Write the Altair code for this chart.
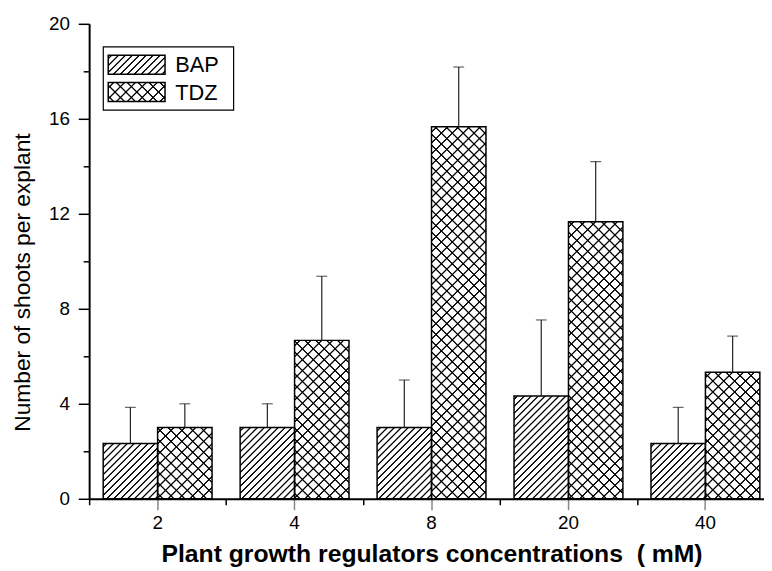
import math
import altair as alt

# ---------------- data ----------------
conc = ["2", "4", "8", "20", "40"]
series = ["BAP", "TDZ"]
bap_mean = [2.33, 3.0, 3.0, 4.33, 2.33]
bap_err = [1.52, 1.0, 2.0, 3.2, 1.52]
tdz_mean = [3.0, 6.67, 15.67, 11.67, 5.33]
tdz_err = [1.0, 2.7, 2.51, 2.53, 1.52]
y_ticks = [0, 2, 4, 6, 8, 10, 12, 14, 16, 18, 20]   # labelled every 4

# ---------------- layout ----------------
W, H = 682, 480          # visible plot area
XR = 692                 # x range (plot runs past the right edge, like the reference)
step = XR / len(conc)
po = 0.258               # outer padding of the sub-bands
bar_w = step / (2 + 2 * po)
px_per_unit = H / 20.0

FONT = "Liberation Sans, Arial, Helvetica, sans-serif"
CLEAR = "rgba(0,0,0,0)"


def hatch(w, h, spacing, direction):
    """Linear gradient that draws 45-degree hatch lines inside a w x h box."""
    L = w + h
    k = L / (w * w + h * h)
    if direction == "/":
        x1, y1, x2, y2 = 0, 0, k * w, k * h
    else:
        x1, y1, x2, y2 = 0, 1, k * w, 1 - k * h
    s2 = math.sqrt(2)
    a = 0.3 * s2 / L
    r = 0.7 * s2 / L
    p = spacing / L
    stops = [{"offset": 0, "color": CLEAR}]
    c = p / 2
    while c - a - r < 1:
        for off, col in [(c - a - r, CLEAR), (c - a, "black"), (c + a, "black"), (c + a + r, CLEAR)]:
            o = min(max(off, 0.0), 1.0)
            stops.append({"offset": round(o, 5), "color": col})
        c += p
    stops.append({"offset": 1, "color": CLEAR})
    return {"gradient": "linear", "x1": round(x1, 5), "y1": round(y1, 5),
            "x2": round(x2, 5), "y2": round(y2, 5), "stops": stops}


spacing = {"BAP": 7.0, "TDZ": 11.0}
rows = []
for i, c in enumerate(conc):
    for s, m, e in [("BAP", bap_mean[i], bap_err[i]), ("TDZ", tdz_mean[i], tdz_err[i])]:
        h = m * px_per_unit
        rows.append({
            "conc": c, "series": s, "mean": m, "upper": round(m + e, 3),
            "g1": hatch(bar_w, h, spacing[s], "/"),
            "g2": hatch(bar_w, h, spacing[s], "\\"),
        })
data = alt.Data(values=rows)

# ---------------- encodings ----------------
xscale = alt.Scale(domain=conc, range=[0, XR], paddingInner=0, paddingOuter=0)
yscale = alt.Scale(domain=[0, 20], nice=False, zero=True)
xoff = alt.XOffset("series:N", scale=alt.Scale(domain=series, paddingInner=0, paddingOuter=po))

x_major_axis = alt.Axis(
    orient="bottom", title="Plant growth regulators concentrations \u00a0( mM)",
    labelAngle=0, labelFontSize=19, labelPadding=4, tickSize=11, tickWidth=1.5,
    domainWidth=2, titleFontSize=25, titleFontWeight="bold", titlePadding=9,
)
x_minor_axis = alt.Axis(
    orient="bottom", title=None, labels=False, domain=False, tickBand="extent",
    tickSize=6, tickWidth=1.5, tickColor="black",
)
# minor ticks (2, 6, 10, ...) show only the first 6 px of the tick
y_axis = alt.Axis(
    orient="left", title="Number of shoots per explant", values=y_ticks,
    labelExpr="datum.value % 4 === 0 ? datum.label : ''",
    labelFontSize=19, labelPadding=9, tickSize=11, tickWidth=1.5, domainWidth=2,
    tickColor="black",
    tickDash={"condition": {"test": "datum.value % 4 !== 0", "value": [6, 100]}, "value": [20, 0]},
    titleFontSize=23, titleFontWeight="normal", titlePadding=14, titleY=261,
)

base = alt.Chart(data)

hatch1 = base.mark_bar(aria=False).encode(
    x=alt.X("conc:N", sort=conc, scale=xscale, axis=x_major_axis),
    xOffset=xoff,
    y=alt.Y("mean:Q", scale=yscale, stack=None, axis=y_axis),
    fill=alt.Fill("g1:N", scale=None),
)

hatch2 = base.transform_filter(alt.datum.series == "TDZ").mark_bar(aria=False).encode(
    x=alt.X("conc:N", sort=conc, scale=xscale, axis=None),
    xOffset=xoff,
    y=alt.Y("mean:Q", scale=yscale, stack=None, axis=None),
    fill=alt.Fill("g2:N", scale=None),
)

outline = base.mark_bar(fill="white", fillOpacity=0, stroke="black", strokeWidth=1.5, aria=False).encode(
    x=alt.X("conc:N", sort=conc, scale=xscale, axis=x_minor_axis),
    xOffset=xoff,
    y=alt.Y("mean:Q", scale=yscale, stack=None, axis=None),
)

err = base.mark_rule(color="#222222", strokeWidth=1.2, aria=False).encode(
    x=alt.X("conc:N", sort=conc, scale=xscale, axis=None),
    xOffset=xoff,
    y=alt.Y("mean:Q", scale=yscale, stack=None, axis=None),
    y2="upper:Q",
)

cap = base.mark_tick(orient="horizontal", size=11, thickness=1.2, color="#222222", aria=False).encode(
    x=alt.X("conc:N", sort=conc, scale=xscale, axis=None),
    xOffset=xoff,
    y=alt.Y("upper:Q", scale=yscale, axis=None),
)

# ---------------- hand-drawn legend (hatched patches) ----------------
leg = alt.Data(values=[{"series": s} for s in series])
pw, ph = 57.4, 19.3
box = alt.Chart(alt.Data(values=[{"k": 1}])).mark_rect(
    fill="white", stroke="black", strokeWidth=1.2, aria=False
).encode(x=alt.value(14.3), x2=alt.value(146), y=alt.value(23.3), y2=alt.value(87.3))

legend_layers = [box]
patch_y = {"BAP": 31.7, "TDZ": 59.3}
text_y = {"BAP": 49.2, "TDZ": 77.2}
for s in series:
    y0 = patch_y[s]
    grads = [hatch(pw, ph, spacing[s], "/")]
    if s == "TDZ":
        grads.append(hatch(pw, ph, spacing[s], "\\"))
    for gi, g in enumerate(grads):
        last = gi == len(grads) - 1
        legend_layers.append(
            alt.Chart(leg).transform_filter(alt.datum.series == s).mark_rect(
                fill=g, stroke="black" if last else "transparent",
                strokeWidth=1.5, aria=False
            ).encode(x=alt.value(19.3), x2=alt.value(19.3 + pw), y=alt.value(y0), y2=alt.value(y0 + ph))
        )
    legend_layers.append(
        alt.Chart(leg).transform_filter(alt.datum.series == s).mark_text(
            align="left", baseline="alphabetic", fontSize=22, font=FONT, color="black", aria=False
        ).encode(x=alt.value(87), y=alt.value(text_y[s]), text="series:N")
    )

chart = alt.layer(hatch1, hatch2, outline, err, cap, *legend_layers).resolve_axis(
    x="independent", y="independent"
).properties(
    width=W, height=H,
    autosize=alt.AutoSizeParams(type="none"),
    padding={"left": 82, "top": 13, "right": 0, "bottom": 70},
).configure_axis(
    grid=False, labelFont=FONT, titleFont=FONT, labelColor="black", titleColor="black",
    domainColor="black",
).configure_view(stroke=None)

chart.save("out.html", embed_options={"renderer": "svg", "actions": False})
